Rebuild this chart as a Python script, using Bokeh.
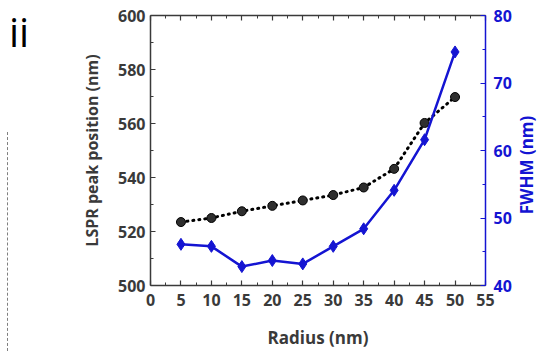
from bokeh.plotting import figure
from bokeh.layouts import row
from bokeh.models import Range1d, LinearAxis, FixedTicker, Div
from bokeh.embed import file_html
from bokeh.resources import INLINE

radius = [5, 10, 15, 20, 25, 30, 35, 40, 45, 50]
lspr_peak = [523.5, 525.0, 527.5, 529.5, 531.5, 533.5, 536.3, 543.2, 560.2, 569.8]
fwhm = [46.1, 45.8, 42.8, 43.7, 43.2, 45.8, 48.4, 54.1, 61.6, 74.6]

x_ticks = [0, 5, 10, 15, 20, 25, 30, 35, 40, 45, 50, 55]
x_minor = [2.5, 7.5, 12.5, 17.5, 22.5, 27.5, 32.5, 37.5, 42.5, 47.5, 52.5]
left_ticks = [500, 520, 540, 560, 580, 600]
left_minor = [510, 530, 550, 570, 590]
right_ticks = [40, 50, 60, 70, 80]
right_minor = [45, 55, 65, 75]
panel_label = "ii"
right_title = "FWHM (nm)"

BLUE = "#1414d2"
AX = "#3a3a3a"
FONT = "Open Sans"
LEFT_W = 44
RIGHT_W = 24
MAIN_W = 539 - LEFT_W - RIGHT_W

# ---- left strip: panel label and dashed separator ----
side_html = (
    f'<div style="position:relative;width:{LEFT_W}px;height:351px;margin:0;padding:0;">'
    f'<span style="position:absolute;left:9px;top:12px;font-family:\'{FONT}\';'
    f'font-size:40px;line-height:40px;color:black;">{panel_label}</span>'
    '<div style="position:absolute;left:7px;top:132px;width:0;height:219px;'
    'border-left:1.5px dashed #808080;"></div>'
    '</div>'
)
side = Div(text=side_html, width=LEFT_W, height=351, margin=0)

# ---- right strip: FWHM axis title, reading bottom to top ----
right_html = (
    f'<div style="position:relative;width:{RIGHT_W}px;height:351px;margin:0;padding:0;">'
    f'<div style="position:absolute;left:12px;top:165px;transform:translate(-50%,-50%) rotate(-90deg);'
    f'white-space:nowrap;font-family:\'{FONT}\';font-weight:bold;font-size:17px;'
    f'line-height:20px;color:{BLUE};">{right_title}</div>'
    '</div>'
)
right_div = Div(text=right_html, width=RIGHT_W, height=351, margin=0)

# ---- main chart ----
p = figure(width=MAIN_W, height=351, x_range=Range1d(0, 55), y_range=Range1d(500, 600),
           output_backend="svg", toolbar_location=None,
           min_border_left=150 - LEFT_W, min_border_right=MAIN_W + LEFT_W - 485,
           min_border_top=15, min_border_bottom=65,
           x_axis_location=None, y_axis_location=None)
p.extra_y_ranges = {"fwhm": Range1d(40, 80)}
p.grid.visible = False
p.outline_line_color = None


def style(ax, color, ticks, minor):
    ax.ticker = FixedTicker(ticks=ticks, minor_ticks=minor)
    ax.axis_line_color = color
    ax.axis_line_width = 1.5
    ax.major_tick_line_color = color
    ax.minor_tick_line_color = color
    ax.major_tick_line_width = 1.2
    ax.minor_tick_line_width = 1.0
    ax.major_tick_in = 5
    ax.major_tick_out = 0
    ax.minor_tick_in = 3
    ax.minor_tick_out = 0
    ax.major_label_text_font = FONT
    ax.major_label_text_font_style = "bold"
    ax.major_label_text_font_size = "16px"
    ax.major_label_text_color = color
    ax.axis_label_text_font = FONT
    ax.axis_label_text_font_style = "bold"
    ax.axis_label_text_font_size = "17px"
    ax.axis_label_text_color = color


xb = LinearAxis(axis_label="Radius (nm)")
style(xb, AX, x_ticks, x_minor)
xb.major_label_standoff = 8
xb.axis_label_standoff = 17
p.add_layout(xb, "below")

# mirrored top frame edge with ticks only (labels blanked)
xt = LinearAxis()
style(xt, AX, x_ticks, x_minor)
xt.major_label_overrides = {t: "" for t in x_ticks}
xt.major_label_text_font_size = "1px"
xt.major_label_standoff = 0
p.add_layout(xt, "above")

yl = LinearAxis(axis_label="LSPR peak position (nm)")
style(yl, AX, left_ticks, left_minor)
yl.axis_label_text_font_size = "16px"
yl.major_label_standoff = 5
yl.axis_label_standoff = 12
p.add_layout(yl, "left")

yr = LinearAxis(y_range_name="fwhm")
style(yr, BLUE, right_ticks, right_minor)
yr.major_label_standoff = 8
p.add_layout(yr, "right")

# black dotted series
p.line(radius, lspr_peak, line_color="black", line_width=3, line_dash="1 5", line_cap="round")
p.scatter(radius, lspr_peak, marker="circle", size=9, fill_color="#2e2e2e", line_color="black",
          line_width=1)

# blue FWHM series
p.line(radius, fwhm, y_range_name="fwhm", line_color=BLUE, line_width=2.5)
p.scatter(radius, fwhm, y_range_name="fwhm", marker="diamond", size=12, fill_color=BLUE,
          line_color=BLUE)

layout = row(side, p, right_div, spacing=0)
open("out.html", "w").write(file_html(layout, INLINE))
